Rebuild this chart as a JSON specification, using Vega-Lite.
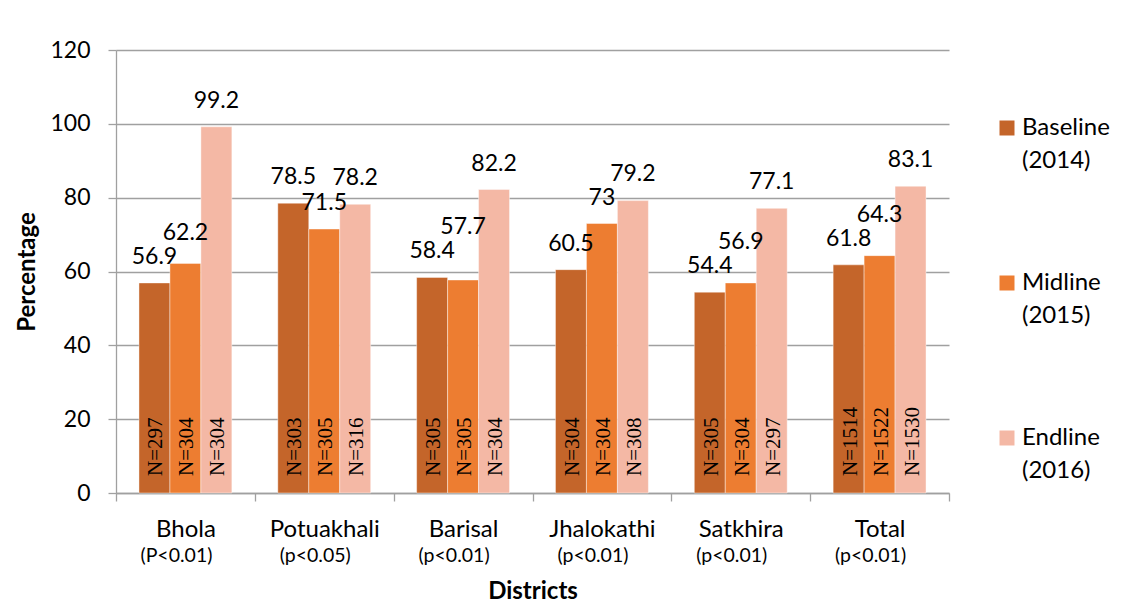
{
  "$schema": "https://vega.github.io/schema/vega-lite/v6.json",
  "width": 833,
  "height": 443,
  "autosize": {"type": "none"},
  "padding": {"left": 116, "top": 50, "right": 184, "bottom": 114},
  "background": "white",
  "datasets": {
    "survey": [
      {"district": "Bhola", "survey": "Baseline (2014)", "value": 56.9, "sample": "N=297"},
      {"district": "Bhola", "survey": "Midline (2015)", "value": 62.2, "sample": "N=304"},
      {"district": "Bhola", "survey": "Endline (2016)", "value": 99.2, "sample": "N=304"},
      {"district": "Potuakhali", "survey": "Baseline (2014)", "value": 78.5, "sample": "N=303"},
      {"district": "Potuakhali", "survey": "Midline (2015)", "value": 71.5, "sample": "N=305"},
      {"district": "Potuakhali", "survey": "Endline (2016)", "value": 78.2, "sample": "N=316"},
      {"district": "Barisal", "survey": "Baseline (2014)", "value": 58.4, "sample": "N=305"},
      {"district": "Barisal", "survey": "Midline (2015)", "value": 57.7, "sample": "N=305"},
      {"district": "Barisal", "survey": "Endline (2016)", "value": 82.2, "sample": "N=304"},
      {"district": "Jhalokathi", "survey": "Baseline (2014)", "value": 60.5, "sample": "N=304"},
      {"district": "Jhalokathi", "survey": "Midline (2015)", "value": 73, "sample": "N=304"},
      {"district": "Jhalokathi", "survey": "Endline (2016)", "value": 79.2, "sample": "N=308"},
      {"district": "Satkhira", "survey": "Baseline (2014)", "value": 54.4, "sample": "N=305"},
      {"district": "Satkhira", "survey": "Midline (2015)", "value": 56.9, "sample": "N=304"},
      {"district": "Satkhira", "survey": "Endline (2016)", "value": 77.1, "sample": "N=297"},
      {"district": "Total", "survey": "Baseline (2014)", "value": 61.8, "sample": "N=1514"},
      {"district": "Total", "survey": "Midline (2015)", "value": 64.3, "sample": "N=1522"},
      {"district": "Total", "survey": "Endline (2016)", "value": 83.1, "sample": "N=1530"}
    ],
    "pvalues": [
      {"district": "Bhola", "p": "(P<0.01)"},
      {"district": "Potuakhali", "p": "(p<0.05)"},
      {"district": "Barisal", "p": "(p<0.01)"},
      {"district": "Jhalokathi", "p": "(p<0.01)"},
      {"district": "Satkhira", "p": "(p<0.01)"},
      {"district": "Total", "p": "(p<0.01)"}
    ]
  },
  "layer": [
    {
      "data": {"name": "survey"},
      "mark": {"type": "bar", "stroke": "white", "strokeWidth": 0.6, "strokeOpacity": 0.7},
      "encoding": {
        "x": {
          "field": "district", "type": "nominal",
          "sort": ["Bhola", "Potuakhali", "Barisal", "Jhalokathi", "Satkhira", "Total"],
          "scale": {"paddingInner": 0, "paddingOuter": 0},
          "title": "Districts",
          "axis": {
            "labelAngle": 0, "labelFont": "Lato", "labelFontSize": 24, "labelColor": "#000000",
            "labelPadding": 16, "tickBand": "extent", "tickSize": 8, "tickColor": "#A0A0A0",
            "tickWidth": 1.3, "domainColor": "#A0A0A0", "domainWidth": 1.3, "grid": false,
            "titleFont": "Lato", "titleFontSize": 24, "titleFontWeight": "bold",
            "titleColor": "#000000", "titlePadding": 38
          }
        },
        "xOffset": {
          "field": "survey", "type": "nominal",
          "sort": ["Baseline (2014)", "Midline (2015)", "Endline (2016)"],
          "scale": {"paddingInner": 0, "paddingOuter": 0.742}
        },
        "y": {
          "field": "value", "type": "quantitative",
          "scale": {"domain": [0, 120], "nice": false},
          "title": "Percentage",
          "axis": {
            "values": [0, 20, 40, 60, 80, 100, 120], "grid": true, "gridColor": "#A0A0A0",
            "gridWidth": 1.3, "tickSize": 8, "tickColor": "#A0A0A0", "tickWidth": 1.3,
            "domainColor": "#A0A0A0", "domainWidth": 1.3, "labelFont": "Lato",
            "labelFontSize": 23, "labelColor": "#000000", "labelPadding": 18,
            "titleFont": "Lato", "titleFontSize": 24, "titleFontWeight": "bold",
            "titleColor": "#000000", "titlePadding": 10
          }
        },
        "color": {
          "field": "survey", "type": "nominal",
          "scale": {
            "domain": ["Baseline (2014)", "Midline (2015)", "Endline (2016)"],
            "range": ["#C4652A", "#ED7D31", "#F4B8A5"]
          },
          "legend": {
            "orient": "none", "legendX": 879, "legendY": 66, "title": null,
            "symbolType": "square", "symbolSize": 225, "symbolStrokeWidth": 0,
            "labelFont": "Lato", "labelFontSize": 24, "labelColor": "#000000",
            "labelOffset": 3, "rowPadding": 98, "labelLimit": 0, "padding": 0,
            "labelExpr": "split(datum.label, ' ')"
          }
        }
      }
    },
    {
      "data": {"name": "survey"},
      "transform": [
        {"calculate": "indexof(['Baseline (2014)', 'Midline (2015)', 'Endline (2016)'], datum.survey)", "as": "order"},
        {"window": [{"op": "lag", "field": "value", "as": "prevValue"}], "groupby": ["district"], "sort": [{"field": "order"}]},
        {"calculate": "datum.prevValue != null && abs(datum.value - datum.prevValue) < 6.5 ? datum.prevValue + 6.5 : datum.value", "as": "labelFirst"},
        {"window": [{"op": "lag", "field": "labelFirst", "as": "prevLabel"}], "groupby": ["district"], "sort": [{"field": "order"}]},
        {"calculate": "datum.prevLabel != null && abs(datum.value - datum.prevLabel) < 6.5 ? datum.prevLabel + 6.5 : datum.value", "as": "labelAt"}
      ],
      "mark": {"type": "text", "font": "Lato", "fontSize": 23, "baseline": "middle", "dy": -26, "color": "#000000"},
      "encoding": {
        "x": {"field": "district", "type": "nominal", "sort": ["Bhola", "Potuakhali", "Barisal", "Jhalokathi", "Satkhira", "Total"], "title": "Districts"},
        "xOffset": {"field": "survey", "type": "nominal", "sort": ["Baseline (2014)", "Midline (2015)", "Endline (2016)"]},
        "y": {"field": "labelAt", "type": "quantitative", "title": "Percentage"},
        "text": {"field": "value", "type": "quantitative"}
      }
    },
    {
      "data": {"name": "survey"},
      "mark": {"type": "text", "font": "Liberation Serif", "fontSize": 21, "angle": 270, "align": "left", "baseline": "middle", "dx": 17, "dy": 2, "color": "#000000"},
      "encoding": {
        "x": {"field": "district", "type": "nominal", "sort": ["Bhola", "Potuakhali", "Barisal", "Jhalokathi", "Satkhira", "Total"], "title": "Districts"},
        "xOffset": {"field": "survey", "type": "nominal", "sort": ["Baseline (2014)", "Midline (2015)", "Endline (2016)"]},
        "y": {"datum": 0, "type": "quantitative", "title": "Percentage"},
        "text": {"field": "sample", "type": "nominal"}
      }
    },
    {
      "data": {"name": "pvalues"},
      "mark": {"type": "text", "font": "Lato", "fontSize": 19.5, "baseline": "middle", "dy": 63, "dx": -9, "color": "#000000"},
      "encoding": {
        "x": {"field": "district", "type": "nominal", "sort": ["Bhola", "Potuakhali", "Barisal", "Jhalokathi", "Satkhira", "Total"], "title": "Districts"},
        "y": {"datum": 0, "type": "quantitative", "title": "Percentage"},
        "text": {"field": "p", "type": "nominal"}
      }
    }
  ],
  "config": {
    "view": {"stroke": null},
    "style": {"guide-label": {"lineHeight": 33}}
  }
}
